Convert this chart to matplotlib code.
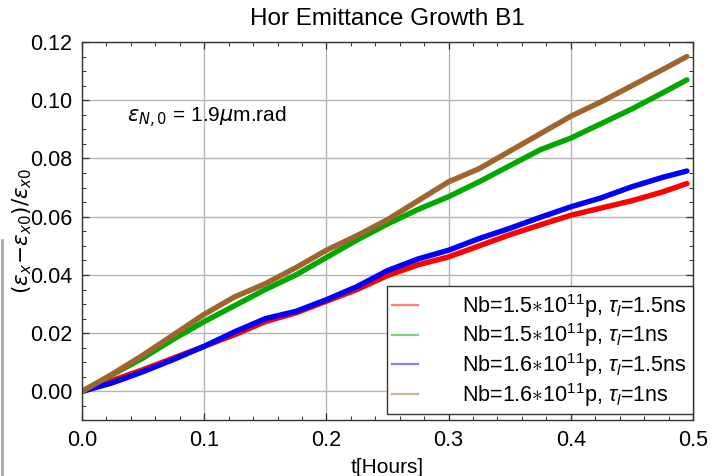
import matplotlib
matplotlib.use("Agg")
import matplotlib.pyplot as plt
from matplotlib.lines import Line2D
from matplotlib.font_manager import FontProperties
from matplotlib.ticker import MultipleLocator, FormatStrFormatter

plt.rcParams['font.family'] = ['Liberation Sans', 'DejaVu Sans']
plt.rcParams['mathtext.fontset'] = 'dejavusans'
plt.rcParams['mathtext.rm'] = 'Liberation Sans'
plt.rcParams['mathtext.it'] = 'Liberation Sans:italic'
plt.rcParams['mathtext.bf'] = 'Liberation Sans:bold'

# ---- data ----
t_hours = [0.0, 0.025, 0.05, 0.075, 0.1, 0.125, 0.15, 0.175, 0.2, 0.225, 0.25,
           0.275, 0.3, 0.325, 0.35, 0.375, 0.4, 0.425, 0.45, 0.475, 0.495]
growth_15_15 = [0.0, 0.0038, 0.0075, 0.0115, 0.0155, 0.0195, 0.024, 0.027, 0.031, 0.035, 0.0398,
                0.0435, 0.0462, 0.050, 0.0538, 0.0572, 0.0605, 0.063, 0.0655, 0.0685, 0.0714]
growth_15_10 = [0.0, 0.0058, 0.0115, 0.018, 0.024, 0.0295, 0.035, 0.040, 0.046, 0.052, 0.0575,
                0.0625, 0.0669, 0.072, 0.0775, 0.083, 0.087, 0.092, 0.097, 0.1025, 0.107]
growth_16_15 = [0.0, 0.003, 0.0068, 0.011, 0.0155, 0.0205, 0.025, 0.0275, 0.0315, 0.036, 0.0415,
                0.0455, 0.0485, 0.0525, 0.056, 0.0598, 0.0634, 0.0665, 0.0703, 0.0735, 0.0757]
growth_16_10 = [0.0, 0.006, 0.0125, 0.0195, 0.0265, 0.0325, 0.037, 0.0425, 0.0485, 0.0535, 0.059,
                0.0655, 0.072, 0.0765, 0.0825, 0.0885, 0.0945, 0.0995, 0.105, 0.1105, 0.115]

series = [
    (growth_15_15, '#ff0000', r'Nb=1.5$\ast$10$^{11}$p, $\tau_l$=1.5ns '),
    (growth_15_10, '#00a800', r'Nb=1.5$\ast$10$^{11}$p, $\tau_l$=1ns'),
    (growth_16_15, '#0000ff', r'Nb=1.6$\ast$10$^{11}$p, $\tau_l$=1.5ns '),
    (growth_16_10, '#a0652f', r'Nb=1.6$\ast$10$^{11}$p, $\tau_l$=1ns'),
]

title = 'Hor Emittance Growth B1'
xlabel = 't[Hours]'
ylabel = r'$(\epsilon_x\!-\!\epsilon_{x0})/\epsilon_{x0}$'
note = r'$\epsilon_{N,0}$ = 1.9$\mu$m.rad'

fig = plt.figure(figsize=(7.12, 4.76), dpi=100)
ax = fig.add_axes([82/712, 1-420/476, (693-82)/712, (420-42)/476])

for vals, col, lab in series:
    ax.plot(t_hours, vals, color=col, lw=3.9, solid_capstyle='round', solid_joinstyle='round')

ax.set_xlim(0, 0.5)
ax.set_ylim(-0.0098, 0.12)
ax.xaxis.set_major_locator(MultipleLocator(0.1))
ax.xaxis.set_minor_locator(MultipleLocator(0.02))
ax.yaxis.set_major_locator(MultipleLocator(0.02))
ax.yaxis.set_minor_locator(MultipleLocator(0.005))
ax.xaxis.set_major_formatter(FormatStrFormatter('%.1f'))
ax.yaxis.set_major_formatter(FormatStrFormatter('%.2f'))
ax.grid(True, which='major', color='#b4b4b4', lw=1.0)
ax.set_axisbelow(True)
ax.tick_params(which='both', direction='in', top=True, right=True, labelsize=15.5, colors='#333333',
               labelcolor='black')
ax.tick_params(which='major', length=5, width=0.9, pad=7)
ax.tick_params(which='minor', length=3, width=0.7)
for s in ax.spines.values():
    s.set_color('#333333')
    s.set_linewidth(1.0)

ax.set_title(title, fontsize=17.5, pad=12)
ax.set_xlabel(xlabel, fontsize=15, labelpad=5)
fig.text(22/712, 1-231/476, ylabel, rotation=90, fontsize=15.5, ha='center', va='center')
ax.text(0.037, 0.094, note, fontsize=15, ha='left', va='center')

handles = [Line2D([0], [0], color=c, lw=1.6, alpha=0.5) for _, c, _ in series]
labels = [lab for _, _, lab in series]
legend_font = FontProperties(family=['Liberation Sans', 'DejaVu Sans'], size=15.5,
                             math_fontfamily='custom')
leg = ax.legend(handles, labels, loc='lower right', bbox_to_anchor=(1.0, 0.016), prop=legend_font,
                frameon=True, fancybox=False, edgecolor='#333333', framealpha=1,
                handlelength=1.2, handletextpad=2.05, labelspacing=0.08, borderpad=0.25,
                borderaxespad=0.0)
leg.get_frame().set_linewidth(1.0)

fig.add_artist(Line2D([1.5/712, 1.5/712], [0, 1-240/476], color='#aaaaaa', lw=2))

fig.savefig('out.png', dpi=100)
